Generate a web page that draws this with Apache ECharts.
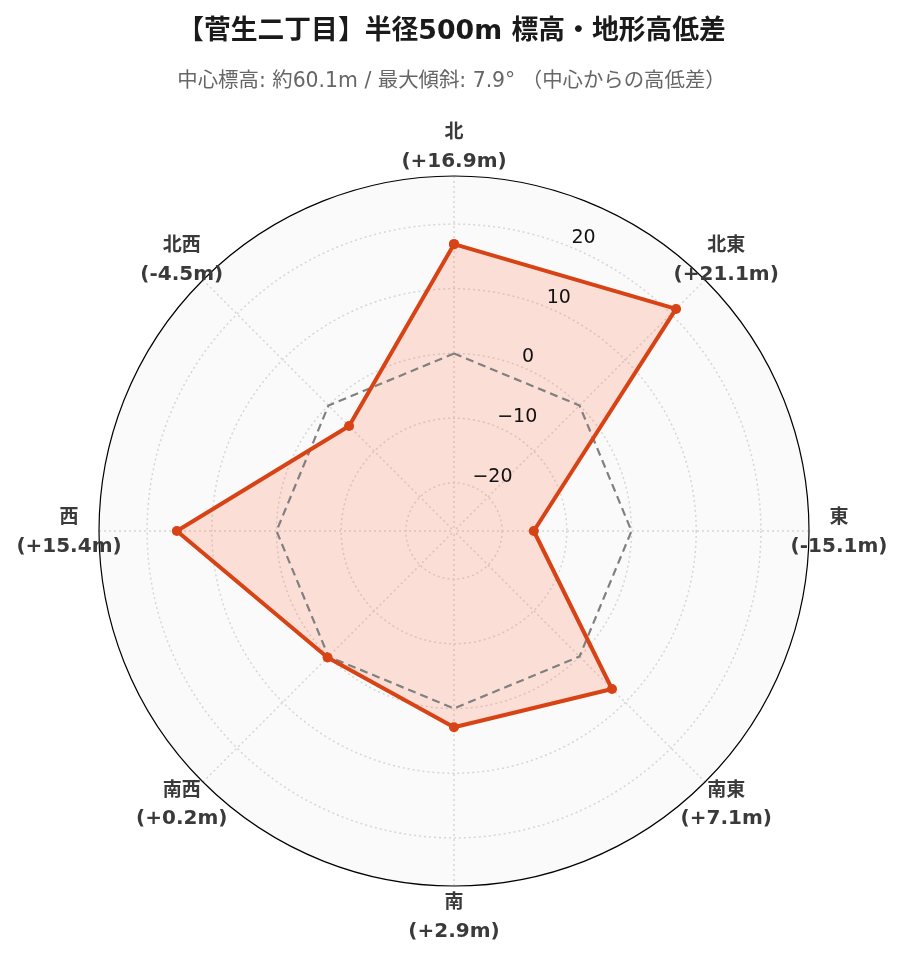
<!DOCTYPE html>
<html><head><meta charset="utf-8">
<script src="https://cdn.jsdelivr.net/npm/echarts@6/dist/echarts.min.js"></script>
<style>html,body{margin:0;padding:0;background:#fff}#c{width:903px;height:962px}</style>
</head><body><div id="c"></div>
<script>
// ---- data ----
const directions = ['北', '北東', '東', '南東', '南', '南西', '西', '北西'];
const elevationDiff = [16.9, 21.1, -15.1, 7.1, 2.9, 0.2, 15.4, -4.5];
const zeroRef = [0, 0, 0, 0, 0, 0, 0, 0];
const radialRange = [-27.43, 27.43];
const radialTicks = [-20, -10, 0, 10, 20];
const titleText = '【菅生二丁目】半径500m 標高・地形高低差';
const subtitleText = '中心標高: 約60.1m / 最大傾斜: 7.9° （中心からの高低差）';

// ---- helpers ----
const FONT = '"DejaVu Sans", "Noto Sans CJK JP", sans-serif';
const STEP = 360 / directions.length;
function closed(vals) {
  const d = vals.map((v, i) => [v, i * STEP]);
  d.push([vals[0], 360]);
  return d;
}
function fmtDiff(v) {
  return '(' + (v >= 0 ? '+' : '-') + Math.abs(v).toFixed(1) + 'm)';
}
function isTick(v) {
  return radialTicks.some(t => Math.abs(t - v) < 1e-6);
}

const CENTER = [454, 531];
const R = 355;
const GRID = '#d6d6d6';

const chart = echarts.init(document.getElementById('c'), null, { renderer: 'canvas' });
chart.setOption({
  backgroundColor: '#ffffff',
  animation: false,
  title: [
    {
      text: titleText, left: 'center', top: 11,
      textStyle: { fontFamily: FONT, fontSize: 26.8, fontWeight: 'bold', color: '#1a1a1a', lineHeight: 32 }
    },
    {
      text: subtitleText, left: 'center', top: 64,
      textStyle: { fontFamily: FONT, fontSize: 20.4, fontWeight: 'normal', color: '#666666', lineHeight: 26 }
    }
  ],
  polar: [
    { center: CENTER, radius: R },
    { center: CENTER, radius: R },
    { center: CENTER, radius: R + 30 }
  ],
  angleAxis: [
    {
      polarIndex: 0, type: 'value', min: 0, max: 360, interval: STEP, startAngle: 90, clockwise: true, z: 1,
      axisLine: { show: true, lineStyle: { color: '#000', width: 1.2 } },
      axisTick: { show: false }, axisLabel: { show: false },
      splitLine: { show: true, lineStyle: { color: GRID, type: [2, 3], width: 1.5 } },
      splitArea: { show: false }
    },
    {
      polarIndex: 1, type: 'value', min: 0, max: 360, interval: STEP, startAngle: 67.5, z: 0,
      axisLine: { show: false }, axisTick: { show: false }, axisLabel: { show: false },
      splitLine: { show: false },
      splitArea: { show: true, areaStyle: { color: ['#fafafa'] } }
    },
    { polarIndex: 2, type: 'category', data: directions, startAngle: 90, boundaryGap: false, show: false }
  ],
  radiusAxis: [
    {
      polarIndex: 0, min: radialRange[0], max: radialRange[1], splitNumber: 5, z: 1,
      axisLine: { show: false }, axisTick: { show: false }, axisLabel: { show: false },
      splitLine: {
        show: true,
        lineStyle: {
          color: ['rgba(0,0,0,0)', GRID, GRID, GRID, GRID, GRID, 'rgba(0,0,0,0)'],
          type: [2, 3], width: 1.5
        }
      }
    },
    {
      polarIndex: 1, min: radialRange[0], max: radialRange[1], splitNumber: 5, z: 10,
      axisLine: { show: false }, axisTick: { show: false }, splitLine: { show: false },
      axisLabel: {
        show: true, margin: 0, align: 'left', verticalAlign: 'bottom', lineHeight: 19,
        fontFamily: FONT, fontSize: 19, color: '#111',
        showMinLabel: true, showMaxLabel: true,
        formatter: v => isTick(v) ? String(Math.round(v)).replace('-', '\u2212') : ''
      }
    },
    { polarIndex: 2, min: 0, max: 1, show: false }
  ],
  series: [
    {
      name: 'fill', type: 'line', coordinateSystem: 'polar', polarIndex: 0,
      data: closed(elevationDiff), symbol: 'none', silent: true, z: 2,
      lineStyle: { width: 0 },
      areaStyle: { color: 'rgba(255,112,67,0.2)', origin: 'start', opacity: 1 }
    },
    {
      name: 'zero', type: 'line', coordinateSystem: 'polar', polarIndex: 0,
      data: closed(zeroRef), symbol: 'none', silent: true, z: 3,
      lineStyle: { color: '#808080', width: 2.2, type: [8, 5] }
    },
    {
      name: 'diff', type: 'line', coordinateSystem: 'polar', polarIndex: 0,
      data: closed(elevationDiff), symbol: 'circle', symbolSize: 10, z: 4,
      lineStyle: { color: '#d84315', width: 4 },
      itemStyle: { color: '#d84315' }
    },
    {
      name: 'labels', type: 'scatter', coordinateSystem: 'polar', polarIndex: 2,
      data: directions.map(d => [1, d]), symbol: 'circle', symbolSize: 0, silent: true, z: 5,
      itemStyle: { color: 'rgba(0,0,0,0)', opacity: 1 },
      label: {
        show: true, position: 'inside', color: '#3a3a3a', offset: [0, 2],
        formatter: p => '{a|' + directions[p.dataIndex] + '}\n{b|' + fmtDiff(elevationDiff[p.dataIndex]) + '}',
        rich: {
          a: { fontFamily: FONT, fontSize: 19, fontWeight: 'bold', color: '#3a3a3a', lineHeight: 28, align: 'center' },
          b: { fontFamily: FONT, fontSize: 20, fontWeight: 'bold', color: '#3a3a3a', lineHeight: 29, align: 'center' }
        }
      }
    }
  ]
});
</script>
</body></html>
